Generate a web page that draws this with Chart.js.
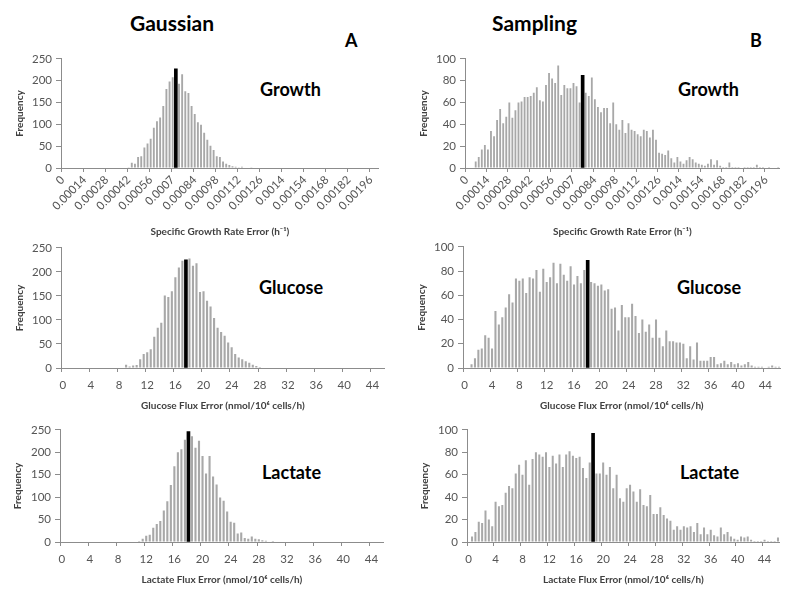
<!DOCTYPE html>
<html>
<head>
<meta charset="utf-8">
<script src="https://cdn.jsdelivr.net/npm/chart.js@4.4.1/dist/chart.umd.min.js"></script>
<style>
  body { margin: 0; width: 800px; height: 599px; background: #fff; position: relative; overflow: hidden; font-family: Lato, sans-serif; }
  canvas { position: absolute; }
  .lbl { position: absolute; font-weight: bold; color: #000; white-space: nowrap; line-height: 1; }
</style>
</head>
<body>
<div class="lbl" style="left:130px;top:12px;font-size:21px">Gaussian</div>
<div class="lbl" style="left:492px;top:12px;font-size:21px">Sampling</div>
<div class="lbl" style="left:345px;top:31px;font-size:18px">A</div>
<div class="lbl" style="left:750px;top:31px;font-size:18px">B</div>

<div class="lbl" style="left:260px;top:80px;font-size:18px">Growth</div>
<div class="lbl" style="left:678px;top:80px;font-size:18px">Growth</div>
<div class="lbl" style="left:259px;top:278px;font-size:18px">Glucose</div>
<div class="lbl" style="left:677px;top:278px;font-size:18px">Glucose</div>
<div class="lbl" style="left:262px;top:463px;font-size:18px">Lactate</div>
<div class="lbl" style="left:680px;top:463px;font-size:18px">Lactate</div>

<canvas id="gGrowth" width="376" height="192" style="left:12px;top:48px"></canvas>
<canvas id="sGrowth" width="373" height="192" style="left:416px;top:48px"></canvas>
<canvas id="gGlucose" width="377" height="177" style="left:12px;top:237px"></canvas>
<canvas id="sGlucose" width="371" height="178" style="left:414px;top:236px"></canvas>
<canvas id="gLactate" width="378" height="169" style="left:10px;top:419px"></canvas>
<canvas id="sLactate" width="367" height="169" style="left:417px;top:419px"></canvas>

<script>
// histogram counts per bin (growth bins 0.00002 h-1, flux bins 0.5 nmol/10^6 cells/h)
const growthGaussian = [
  0,0,0,0,0,0,0,0,0,0,
  0,0,0,0,0,0,0,0,0,1,
  1,2,12,10,25,27,47,56,67,92,
  107,116,142,181,198,208,210,193,215,176,
  172,142,124,105,99,81,65,51,41,27,
  25,15,10,7,4,3,2,3,1,1,
  2,0,1,0,1,0,0,0,0,0,
  0,0,0,0,0,0,0,0,0,0,
  0,0,0,0,0,0,0,0,0,0,
  0,0,0,0,0,0,0,0,0,0,
  0
];
const growthSampling = [
  0,0,0,6,10,17,21,17,34,29,
  44,54,41,47,60,46,53,60,61,65,
  65,66,69,74,62,61,76,87,82,78,
  94,67,76,73,73,78,75,60,60,69,
  66,83,63,56,51,55,55,41,60,40,
  35,44,32,41,35,34,31,29,35,34,
  28,35,26,14,13,12,16,9,5,10,
  6,4,7,10,8,5,4,3,2,4,
  8,3,7,2,1,1,5,1,1,1,
  0,1,1,1,1,3,1,1,0,1,
  0,0,1
];
const glucoseGaussian = [
  0,0,0,0,0,0,0,0,0,0,
  0,0,0,0,0,0,0,0,7,3,
  5,6,18,29,33,39,65,84,94,151,
  148,160,189,209,223,225,228,213,218,158,
  160,140,128,104,84,75,67,53,43,29,
  22,18,14,11,7,4,2,1,0,1,
  1,0,0,0,0,0,0,0,0,0,
  0,0,0,0,0,0,0,0,0,0,
  0,0,0,0,0,0,0,0,0,0,
  0,0
];
const glucoseSampling = [
  0,0,3,8,15,16,27,25,16,47,
  36,42,50,61,54,74,72,74,62,75,
  74,81,63,82,71,75,87,70,86,77,
  72,84,69,76,70,81,70,71,70,68,
  69,64,65,49,50,31,52,42,42,53,
  43,29,40,30,36,25,40,25,18,31,
  22,22,21,21,20,8,18,7,21,6,
  6,6,9,9,3,4,6,3,5,3,
  4,2,3,5,2,1,1,1,0,1,
  2,1,1
];
const lactateGaussian = [
  0,0,0,0,0,0,0,0,0,0,
  0,0,0,0,0,0,0,0,0,0,
  0,0,2,7,14,16,32,40,47,70,
  91,127,169,200,207,228,236,236,210,226,
  192,153,192,146,128,99,92,68,45,43,
  19,21,9,7,12,7,6,4,3,1,
  2,0,1,0,0,0,0,0,0,0,
  0,0,0,0,0,0,0,0,0,0,
  0,0,0,0,0,0,0,0,0,0,
  0,0
];
const lactateSampling = [
  0,5,9,18,17,28,20,14,36,32,
  33,44,50,48,61,69,60,73,51,74,
  80,78,76,80,67,77,70,78,67,78,
  81,77,75,76,66,57,71,71,61,61,
  71,60,67,48,60,39,36,48,51,45,
  36,47,33,32,42,25,25,31,24,21,
  19,11,14,11,14,13,14,9,17,7,
  13,7,11,6,5,13,7,9,5,3,
  2,5,4,5,2,1,1,1,2,1,
  1,1,4
];

// black marker bar: [bin index, height]
const growthGaussianMean = [36, 227];
const growthSamplingMean = [38, 85];
const glucoseGaussianMean = [35, 225];
const glucoseSamplingMean = [36, 89];
const lactateGaussianMean = [36, 246];
const lactateSamplingMean = [37, 97];

const growthTicks = ['0','0.00014','0.00028','0.00042','0.00056','0.0007','0.00084','0.00098',
  '0.00112','0.00126','0.0014','0.00154','0.00168','0.00182','0.00196'];
const fluxTicks = ['0','4','8','12','16','20','24','28','32','36','40','44'];

const growthTitle = 'Specific Growth Rate Error (h\u207B\u00B9)';
const glucoseTitle = 'Glucose Flux Error (nmol/10\u2076 cells/h)';
const lactateTitle = 'Lactate Flux Error (nmol/10\u2076 cells/h)';

const FONT = 'Lato, sans-serif';
const TICK_COLOR = '#555555';
const AXIS_COLOR = '#8c8c8c';

function drawPanel(id, counts, mean, yMax, yStep, tickLabels, every, rotation, xTitle, yWidth, xHeight) {
  const marker = counts.map((c, i) => (i === mean[0] ? mean[1] : null));
  new Chart(document.getElementById(id), {
    type: 'bar',
    data: {
      labels: counts.map((c, i) => i),
      datasets: [
        { data: marker, backgroundColor: '#000', barThickness: 3, grouped: false },
        { data: counts, backgroundColor: '#a8a8a8', barPercentage: 0.6, categoryPercentage: 1, grouped: false }
      ]
    },
    options: {
      responsive: false,
      animation: false,
      devicePixelRatio: 1,
      layout: { padding: { top: 8, right: 2, left: 0, bottom: 0 } },
      plugins: { legend: { display: false }, tooltip: { enabled: false } },
      scales: {
        x: {
          afterFit: s => { s.height = xHeight; },
          grid: {
            drawOnChartArea: false,
            tickLength: 4,
            color: c => (c.index % every === 0 ? AXIS_COLOR : 'rgba(0,0,0,0)')
          },
          border: { color: AXIS_COLOR },
          ticks: {
            autoSkip: false,
            minRotation: rotation,
            maxRotation: rotation,
            padding: rotation ? 1 : 6,
            color: TICK_COLOR,
            font: { family: FONT, size: 11.5 },
            callback: (v, i) => (i % every === 0 && tickLabels[i / every] !== undefined ? tickLabels[i / every] : '')
          },
          title: {
            display: true, text: xTitle, color: '#404040',
            font: { family: FONT, size: 10, weight: 'bold' },
            padding: { top: 2, bottom: 2 }
          }
        },
        y: {
          min: 0,
          max: yMax,
          afterFit: s => { s.width = yWidth; },
          grid: { drawOnChartArea: false, tickLength: 5, color: AXIS_COLOR },
          border: { color: AXIS_COLOR },
          ticks: { stepSize: yStep, padding: 4, color: TICK_COLOR, font: { family: FONT, size: 11.5 } },
          title: {
            display: true, text: 'Frequency', color: '#404040',
            font: { family: FONT, size: 10, weight: 'bold' },
            padding: { top: 2, bottom: 2 }
          }
        }
      }
    }
  });
}

drawPanel('gGrowth', growthGaussian, growthGaussianMean, 250, 50, growthTicks, 7, 45, growthTitle, 49, 72);
drawPanel('sGrowth', growthSampling, growthSamplingMean, 100, 20, growthTicks, 7, 45, growthTitle, 49, 72);
drawPanel('gGlucose', glucoseGaussian, glucoseGaussianMean, 250, 50, fluxTicks, 8, 0, glucoseTitle, 49, 46);
drawPanel('sGlucose', glucoseSampling, glucoseSamplingMean, 100, 20, fluxTicks, 8, 0, glucoseTitle, 49, 46);
drawPanel('gLactate', lactateGaussian, lactateGaussianMean, 250, 50, fluxTicks, 8, 0, lactateTitle, 50, 46);
drawPanel('sLactate', lactateSampling, lactateSamplingMean, 100, 20, fluxTicks, 8, 0, lactateTitle, 50, 46);
</script>
</body>
</html>
